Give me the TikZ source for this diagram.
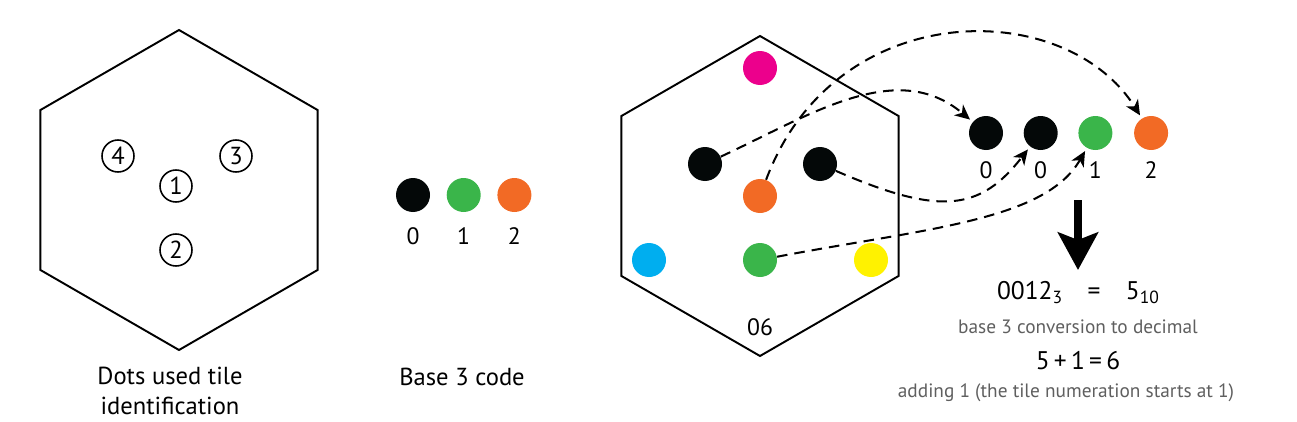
\documentclass[tikz,border=0pt]{standalone}
\usepackage{fontspec}
\setmainfont{PT Sans}
\usepackage{tikz}
\usetikzlibrary{shapes.geometric,arrows.meta,positioning}

\definecolor{dotblack}{HTML}{040808}
\definecolor{dotgreen}{HTML}{3AB54A}
\definecolor{dotorange}{HTML}{F26A25}
\definecolor{dotmagenta}{HTML}{EC008C}
\definecolor{dotcyan}{HTML}{00AEEF}
\definecolor{dotyellow}{HTML}{FFF200}
\definecolor{notegray}{HTML}{5F5F5F}

\tikzstyle{hexa} = [regular polygon, regular polygon sides=6, regular polygon rotate=30,
draw, line width=1.1pt, minimum size=6.4cm, inner sep=0pt]
\tikzstyle{num} = [circle, draw, line width=0.9pt, minimum size=0.64cm, inner sep=0pt, font=\fontsize{14}{16}\selectfont]
\tikzstyle{dot} = [circle, minimum size=0.68cm, inner sep=0pt]
\tikzstyle{digit} = [font=\fontsize{13.5}{15}\selectfont]
\tikzstyle{caption} = [font=\fontsize{14}{17.5}\selectfont, align=center]
\tikzstyle{formula} = [font=\fontsize{14.5}{16}\selectfont]
\tikzstyle{note} = [text=notegray, font=\fontsize{11}{13}\selectfont]
\tikzstyle{line} = [draw, line width=1.15pt, dash pattern=on 6pt off 4pt,
-{Stealth[length=0.3cm,width=0.28cm,inset=0.09cm]}, shorten >=2pt]
\tikzstyle{bigarrow} = [draw, line width=0.16cm, -{Stealth[length=0.75cm,width=0.8cm,inset=0.15cm]}]

\begin{document}
\begin{tikzpicture}[node distance = 2cm, auto]
	\useasboundingbox (0,0) rectangle (25.94,8.42);
	% tile with numbered dot positions
	\node [hexa] (tileL) at (3.58,4.62) {};
	\node [num] (n1) at (3.52,4.70) {1};
	\node [num] (n2) at (3.52,3.42) {2};
	\node [num] (n3) at (4.72,5.30) {3};
	\node [num] (n4) at (2.36,5.30) {4};
	\node [caption] (capL) at (3.4,0.6) {Dots used tile\\identification};
	
	% base 3 code
	\node [dot, fill=dotblack] (code0) at (8.26,4.52) {};
	\node [dot, fill=dotgreen, right=0.32cm of code0] (code1) {};
	\node [dot, fill=dotorange, right=0.32cm of code1] (code2) {};
	\node [digit, below=0.18cm of code0] (c0) {0};
	\node [digit, below=0.18cm of code1] (c1) {1};
	\node [digit, below=0.18cm of code2] (c2) {2};
	\node [caption] (capM) at (9.24,0.88) {Base 3 code};
	
	% example tile
	\node [hexa] (tileR) at (15.2,4.5) {};
	\node [dot, fill=dotmagenta] (dMa) at (15.2,7.06) {};
	\node [dot, fill=dotblack] (dBl) at (14.1,5.14) {};
	\node [dot, fill=dotblack] (dBr) at (16.4,5.14) {};
	\node [dot, fill=dotorange] (dOr) at (15.2,4.5) {};
	\node [dot, fill=dotcyan] (dCy) at (12.98,3.22) {};
	\node [dot, fill=dotgreen] (dGr) at (15.2,3.22) {};
	\node [dot, fill=dotyellow] (dYe) at (17.42,3.22) {};
	\node [digit, above=0.3cm of tileR.south] (tileno) {06};
	
	% read code
	\node [dot, fill=dotblack] (rA) at (19.72,5.76) {};
	\node [dot, fill=dotblack, right=0.4cm of rA] (rB) {};
	\node [dot, fill=dotgreen, right=0.4cm of rB] (rC) {};
	\node [dot, fill=dotorange, right=0.42cm of rC] (rD) {};
	\node [digit, below=0.1cm of rA] (lA) {0};
	\node [digit, below=0.1cm of rB] (lB) {0};
	\node [digit, below=0.1cm of rC] (lC) {1};
	\node [digit, below=0.1cm of rD] (lD) {2};
	
	\path [line] (dBl) to[out=25,in=140] (rA);
	\path [line] (dBr) .. controls (18.8,4.1) and (19.6,4.2) .. (rB);
	\path [line] (dGr) .. controls (18.5,3.85) and (20.9,4.0) .. (rC);
	\path [line] (dOr) .. controls (16.7,8.5) and (21.3,8.5) .. (rD);
	
	% conversion
	\coordinate (arrtop) at (21.56,4.42);
	\coordinate (arrend) at (21.56,3.02);
	\path [bigarrow] (arrtop) -- (arrend);
	\node [formula] (eq) at (21.56,2.56) {0012{\fontsize{10}{11}\selectfont\raisebox{-0.45ex}{3}}\quad=\quad5{\fontsize{10}{11}\selectfont\raisebox{-0.45ex}{10}}};
	\node [note] (conv) at (21.56,1.88) {base 3 conversion to decimal};
	\node [formula] (sum) at (21.56,1.2) {5\,+\,1\,=\,6};
	\node [note] (adding) at (21.32,0.56) {adding 1 (the tile numeration starts at 1)};
	
\end{tikzpicture}
\end{document}
